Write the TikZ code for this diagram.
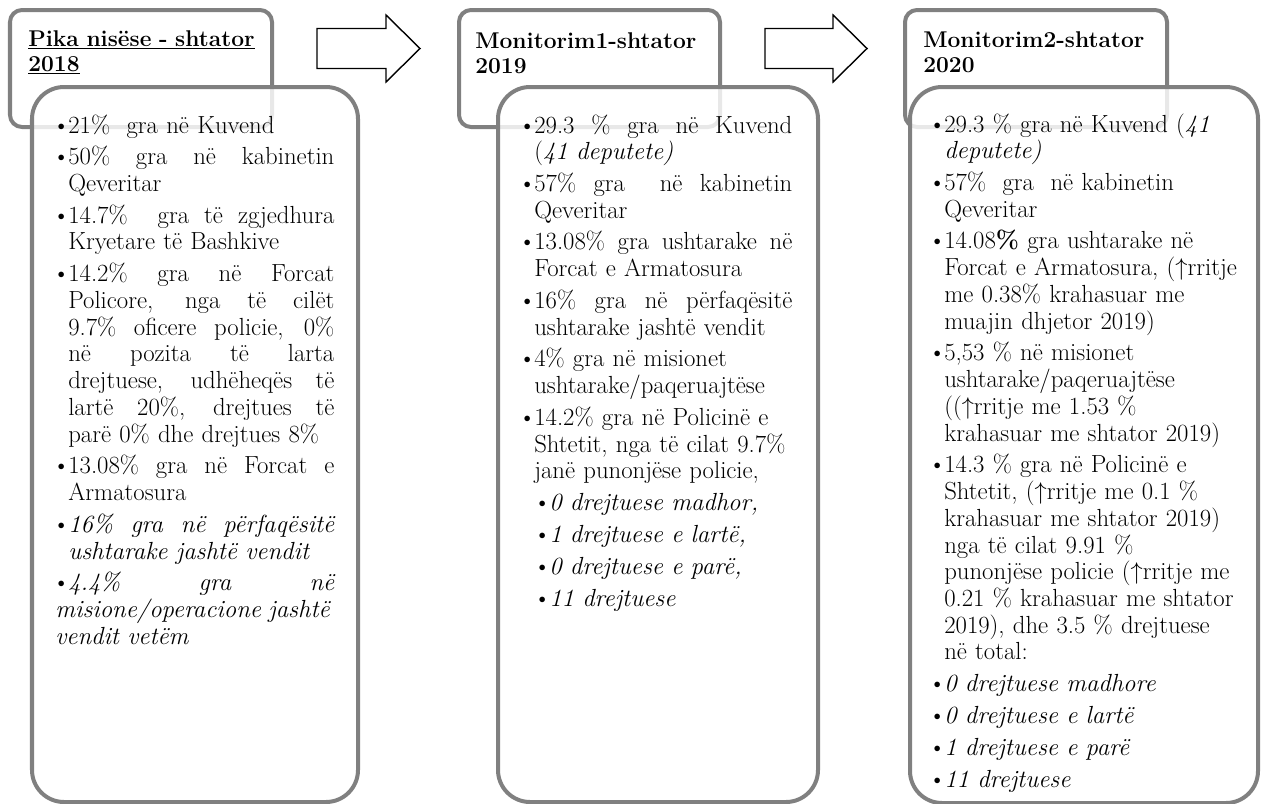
\documentclass[tikz,border=0pt]{standalone}
\usepackage{fontspec}

\newlength{\bw}\setlength{\bw}{0.325cm}
\newcommand{\headfont}{\fontsize{16.2pt}{17.8pt}\selectfont\bfseries}
\newcommand{\bodyfont}{\fontsize{17.6pt}{19pt}\selectfont}
\newcommand{\bulmark}{\makebox[\bw][l]{\hspace*{-0.07cm}\textbullet}}
\newcommand{\itm}{\hangindent=\bw\hangafter=1\noindent\bulmark}
\newcommand{\bul}{\par\itm}
\newcommand{\subbul}{\par\hangindent=0.7cm\hangafter=1\noindent\hspace*{0.375cm}\bulmark}
\newcommand{\jline}[2]{{\spaceskip=0.3em plus 1fil\hbox to #1{#2}}\newline}
\newcommand{\ja}[1]{\jline{6.65cm}{#1}}
\newcommand{\jb}[1]{\jline{6.45cm}{#1}}

\begin{document}
\begin{tikzpicture}[x=0.025cm,y=-0.025cm,
	frame/.style={draw=black!50, line width=0.1cm},
	headbox/.style={frame, fill=white, rounded corners=0.3cm},
	hidden/.style={draw=black!9, line width=0.1cm, rounded corners=0.3cm},
	bodyfill/.style={fill=white, rounded corners=0.8cm},
	bodyline/.style={frame, rounded corners=0.8cm},
	blockarrow/.style={draw, line width=1pt, fill=white},
	headtext/.style={anchor=base west, inner sep=0pt, text width=6cm, font=\headfont},
	bodytext/.style={anchor=base west, inner sep=0pt, text width=#1, font=\bodyfont}]
		\useasboundingbox (0,0) rectangle (1262,803);
		\draw[headbox] (10,10) rectangle (272,127);
		\fill[bodyfill] (32,87) rectangle (358,802);
		\begin{scope}
			\clip[rounded corners=0.8cm] (32,87) rectangle (358,802);
			\draw[hidden] (10,10) rectangle (272,127);
		\end{scope}
		\draw[bodyline] (32,87) rectangle (358,802);
		\draw[headbox] (459,10) rectangle (720,127);
		\fill[bodyfill] (498,87) rectangle (818,802);
		\begin{scope}
			\clip[rounded corners=0.8cm] (498,87) rectangle (818,802);
			\draw[hidden] (459,10) rectangle (720,127);
		\end{scope}
		\draw[bodyline] (498,87) rectangle (818,802);
		\draw[headbox] (905,10) rectangle (1167,127);
		\fill[bodyfill] (910,87) rectangle (1258,803);
		\begin{scope}
			\clip[rounded corners=0.8cm] (910,87) rectangle (1258,803);
			\draw[hidden] (905,10) rectangle (1167,127);
		\end{scope}
		\draw[bodyline] (910,87) rectangle (1258,803);
		\draw[blockarrow] (317,28.5) -- (386,28.5) -- (386,15) -- (420,48.5) -- (386,82) -- (386,68.5) -- (317,68.5) -- cycle;
		\draw[blockarrow] (765,28.5) -- (833,28.5) -- (833,15) -- (867,48.5) -- (833,82) -- (833,68.5) -- (765,68.5) -- cycle;
		\node[headtext] (h1) at (28,46) {\underline{Pika nisëse - shtator}\newline\underline{2018}};
		\node[headtext] (h2) at (475,48) {Monitorim1-shtator\newline 2019};
		\node[headtext] (h3) at (923,47) {Monitorim2-shtator\newline 2020};
		\node[bodytext=7.4cm] (t1) at (55,133) {\setlength{\parskip}{3.6pt}%
			\itm 21\% \ gra në Kuvend
			\bul \ja{50\% gra në kabinetin}Qeveritar
			\bul \ja{14.7\% \ gra të zgjedhura}Kryetare të Bashkive
			\bul \ja{14.2\% gra në Forcat}\ja{Policore, nga të cilët}\ja{9.7\% oficere policie, 0\%}%
			\ja{në pozita të larta}\ja{drejtuese, udhëheqës të}\ja{lartë 20\%, drejtues të}parë 0\% dhe drejtues 8\%
			\bul \ja{13.08\% gra në Forcat e}Armatosura
			\bul \ja{\itshape 16\% gra në përfaqësitë}\textit{ushtarake jashtë vendit}
			\bul \ja{\itshape 4.4\% gra në}\ja{\itshape misione/operacione jashtë}\textit{vendit vetëm}};
		\node[bodytext=7.3cm] (t2) at (521,133) {\setlength{\parskip}{3.6pt}%
			\itm \jb{29.3 \% gra në Kuvend}(\textit{41 deputete)}
			\bul \jb{57\% gra \ në kabinetin}Qeveritar
			\bul \jb{13.08\% gra ushtarake në}Forcat e Armatosura
			\bul \jb{16\% gra në përfaqësitë}ushtarake jashtë vendit
			\bul 4\% gra në misionet\newline ushtarake/paqeruajtëse
			\bul 14.2\% gra në Policinë e\newline Shtetit, nga të cilat 9.7\%\newline janë punonjëse policie,
			\subbul \textit{0 drejtuese madhor,}
			\subbul \textit{1 drejtuese e lartë,}
			\subbul \textit{0 drejtuese e parë,}
			\subbul \textit{11 drejtuese}};
		\node[bodytext=8.2cm] (t3) at (931,132) {\setlength{\parskip}{3.6pt}%
			\itm 29.3 \% gra në Kuvend (\textit{41}\newline \textit{deputete)}
			\bul 57\% \ gra \ në kabinetin\newline Qeveritar
			\bul 14.08\textbf{\%} gra ushtarake në\newline Forcat e Armatosura, ($\uparrow$rritje\newline
			me 0.38\% krahasuar me\newline muajin dhjetor 2019)
			\bul 5,53 \% në misionet\newline ushtarake/paqeruajtëse\newline (($\uparrow$rritje me 1.53 \%\newline
			krahasuar me shtator 2019)
			\bul 14.3 \% gra në Policinë e\newline Shtetit, ($\uparrow$rritje me 0.1 \%\newline
			krahasuar me shtator 2019)\newline nga të cilat 9.91 \%\newline punonjëse policie ($\uparrow$rritje me\newline
			0.21 \% krahasuar me shtator\newline 2019), dhe 3.5 \% drejtuese\newline në total:
			\bul \textit{0 drejtuese madhore}
			\bul \textit{0 drejtuese e lartë}
			\bul \textit{1 drejtuese e parë}
			\bul \textit{11 drejtuese}};
	\end{tikzpicture}
\end{document}
